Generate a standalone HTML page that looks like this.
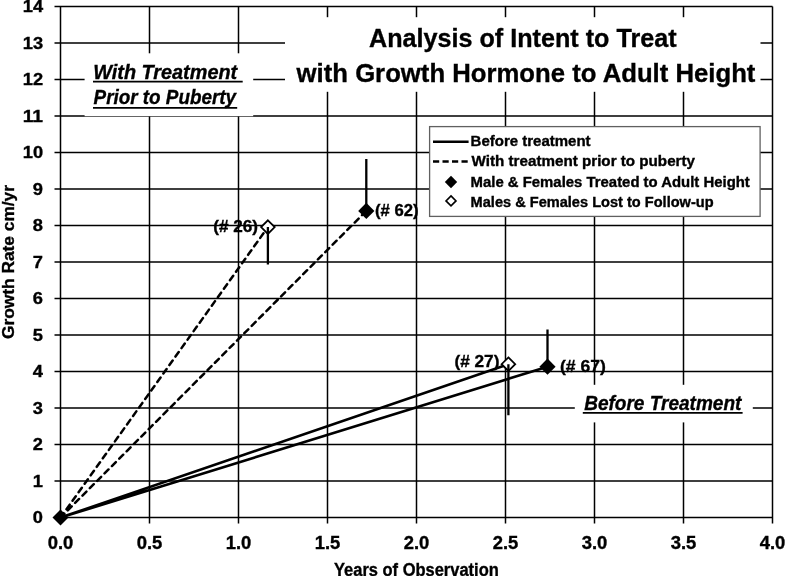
<!DOCTYPE html><html><head><meta charset="utf-8"><style>html,body{margin:0;padding:0;background:#fff;overflow:hidden}svg{display:block;will-change:transform}text{font-family:"Liberation Sans",sans-serif;font-weight:bold;fill:#000;stroke:#000;stroke-width:0.35px;white-space:pre}</style></head><body><svg width="785" height="576" viewBox="0 0 785 576"><rect width="785" height="576" fill="#fff"/><path d="M54.50 517.60H772.50M54.50 481.10H772.50M54.50 444.60H772.50M54.50 408.10H772.50M54.50 371.60H772.50M54.50 335.10H772.50M54.50 298.60H772.50M54.50 262.10H772.50M54.50 225.60H772.50M54.50 189.10H772.50M54.50 152.60H772.50M54.50 116.10H772.50M54.50 79.60H772.50M54.50 43.10H772.50M54.50 6.60H772.50M60.50 6.60V523.60M149.50 6.60V523.60M238.50 6.60V523.60M327.50 6.60V523.60M416.50 6.60V523.60M505.50 6.60V523.60M594.50 6.60V523.60M683.50 6.60V523.60M772.50 6.60V523.60" stroke="#000" stroke-width="1.5" fill="none"/><rect x="285" y="17.2" width="475.5" height="74.6" fill="#fff"/><rect x="84.6" y="53.3" width="168.6" height="62.9" fill="#fff"/><rect x="574.8" y="384.8" width="178" height="37.6" fill="#fff"/><rect x="429.6" y="126.6" width="330.5" height="89.8" fill="#fff" stroke="#606060" stroke-width="1.3"/><path d="M93 81.6H242.7M93 107.8H237.2M582.8 412.9H742.6" stroke="#000" stroke-width="1.7"/><path d="M433 141.8H468.6" stroke="#000" stroke-width="2.5"/><path d="M433 161.4H468.6" stroke="#000" stroke-width="2.5" stroke-dasharray="6.2 3.3"/><path d="M451 175.8L457.2 182L451 188.2L444.8 182Z" fill="#000"/><path d="M451 195.9L456 200.9L451 205.9L446 200.9Z" fill="#fff" stroke="#000" stroke-width="1.6"/><path d="M60.5 517.6L508.4 364.2M60.5 517.6L547.5 366.7" stroke="#000" stroke-width="2.6" fill="none"/><path d="M60.5 517.6L267.9 227.1M60.5 517.6L366.3 210.9" stroke="#000" stroke-width="2.5" fill="none" stroke-dasharray="5.6 4.82" stroke-dashoffset="0.14" stroke-linecap="round"/><path d="M267.90 220.30L274.70 227.10L267.90 233.90L261.10 227.10Z" fill="#fff" stroke="#000" stroke-width="1.8"/><path d="M508.40 357.40L515.20 364.20L508.40 371.00L501.60 364.20Z" fill="#fff" stroke="#000" stroke-width="1.8"/><path d="M366.30 202.80L374.40 210.90L366.30 219.00L358.20 210.90Z" fill="#000"/><path d="M547.50 358.60L555.60 366.70L547.50 374.80L539.40 366.70Z" fill="#000"/><path d="M60.50 509.60L68.50 517.60L60.50 525.60L52.50 517.60Z" fill="#000"/><path d="M267.9 227.1V264.6M366.3 210.9V159M508.4 364.2V415.2M547.5 366.7V329.4" stroke="#000" stroke-width="2.3"/><text x="369.00" y="46.60" font-size="26" textLength="307.60" lengthAdjust="spacingAndGlyphs">Analysis of Intent to Treat</text><text x="296.60" y="81.60" font-size="26" textLength="458.80" lengthAdjust="spacingAndGlyphs">with Growth Hormone to Adult Height</text><text x="93.20" y="78.50" font-size="20" font-style="italic" textLength="144.00" lengthAdjust="spacingAndGlyphs">With Treatment</text><text x="93.60" y="104.30" font-size="19.6" font-style="italic" textLength="142.40" lengthAdjust="spacingAndGlyphs">Prior to Puberty</text><text x="584.20" y="409.70" font-size="19.4" font-style="italic" textLength="157.20" lengthAdjust="spacingAndGlyphs">Before Treatment</text><text x="470.60" y="146.00" font-size="14.2" textLength="120.00" lengthAdjust="spacingAndGlyphs">Before treatment</text><text x="471.60" y="166.30" font-size="14.2" textLength="223.40" lengthAdjust="spacingAndGlyphs">With treatment prior to puberty</text><text x="470.60" y="186.50" font-size="14.2" textLength="279.20" lengthAdjust="spacingAndGlyphs">Male &amp; Females Treated to Adult Height</text><text x="470.60" y="206.70" font-size="14.2" textLength="243.00" lengthAdjust="spacingAndGlyphs">Males &amp; Females Lost to Follow-up</text><text x="334.00" y="575.60" font-size="18" textLength="164.80" lengthAdjust="spacingAndGlyphs">Years of Observation</text><text x="213.20" y="231.90" font-size="16.6" textLength="44.80" lengthAdjust="spacingAndGlyphs">(# 26)</text><text x="375.00" y="215.50" font-size="16.6" textLength="43.60" lengthAdjust="spacingAndGlyphs">(# 62)</text><text x="454.40" y="366.70" font-size="16.6" textLength="45.00" lengthAdjust="spacingAndGlyphs">(# 27)</text><text x="560.00" y="371.90" font-size="16.6" textLength="45.80" lengthAdjust="spacingAndGlyphs">(# 67)</text><text x="32.89" y="523.30" font-size="17.4" textLength="10.16" lengthAdjust="spacingAndGlyphs">0</text><text x="32.89" y="486.80" font-size="17.4" textLength="10.16" lengthAdjust="spacingAndGlyphs">1</text><text x="32.89" y="450.30" font-size="17.4" textLength="10.16" lengthAdjust="spacingAndGlyphs">2</text><text x="32.89" y="413.80" font-size="17.4" textLength="10.16" lengthAdjust="spacingAndGlyphs">3</text><text x="32.89" y="377.30" font-size="17.4" textLength="10.16" lengthAdjust="spacingAndGlyphs">4</text><text x="32.89" y="340.80" font-size="17.4" textLength="10.16" lengthAdjust="spacingAndGlyphs">5</text><text x="32.89" y="304.30" font-size="17.4" textLength="10.16" lengthAdjust="spacingAndGlyphs">6</text><text x="32.89" y="267.80" font-size="17.4" textLength="10.16" lengthAdjust="spacingAndGlyphs">7</text><text x="32.89" y="231.30" font-size="17.4" textLength="10.16" lengthAdjust="spacingAndGlyphs">8</text><text x="32.89" y="194.80" font-size="17.4" textLength="10.16" lengthAdjust="spacingAndGlyphs">9</text><text x="22.72" y="158.30" font-size="17.4" textLength="20.33" lengthAdjust="spacingAndGlyphs">10</text><text x="22.72" y="121.80" font-size="17.4" textLength="20.33" lengthAdjust="spacingAndGlyphs">11</text><text x="22.72" y="85.30" font-size="17.4" textLength="20.33" lengthAdjust="spacingAndGlyphs">12</text><text x="22.72" y="48.80" font-size="17.4" textLength="20.33" lengthAdjust="spacingAndGlyphs">13</text><text x="22.72" y="12.30" font-size="17.4" textLength="20.33" lengthAdjust="spacingAndGlyphs">14</text><text x="47.70" y="548.7" font-size="17.8" textLength="25.60" lengthAdjust="spacingAndGlyphs">0.0</text><text x="136.70" y="548.7" font-size="17.8" textLength="25.60" lengthAdjust="spacingAndGlyphs">0.5</text><text x="225.70" y="548.7" font-size="17.8" textLength="25.60" lengthAdjust="spacingAndGlyphs">1.0</text><text x="314.70" y="548.7" font-size="17.8" textLength="25.60" lengthAdjust="spacingAndGlyphs">1.5</text><text x="403.70" y="548.7" font-size="17.8" textLength="25.60" lengthAdjust="spacingAndGlyphs">2.0</text><text x="492.70" y="548.7" font-size="17.8" textLength="25.60" lengthAdjust="spacingAndGlyphs">2.5</text><text x="581.70" y="548.7" font-size="17.8" textLength="25.60" lengthAdjust="spacingAndGlyphs">3.0</text><text x="670.70" y="548.7" font-size="17.8" textLength="25.60" lengthAdjust="spacingAndGlyphs">3.5</text><text x="759.70" y="548.7" font-size="17.8" textLength="25.60" lengthAdjust="spacingAndGlyphs">4.0</text><text transform="translate(14.0 339.00) rotate(-90)" x="0" y="0" font-size="16.8" textLength="154.00" lengthAdjust="spacingAndGlyphs">Growth Rate cm/yr</text></svg></body></html>
